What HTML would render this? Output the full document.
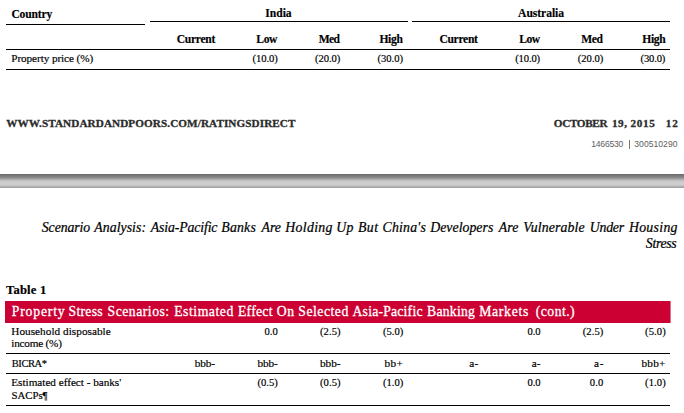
<!DOCTYPE html>
<html><head><meta charset="utf-8"><style>
html,body{margin:0;padding:0;background:#fff;}
body{width:684px;height:413px;position:relative;overflow:hidden;font-family:"Liberation Serif",serif;}
.t{position:absolute;white-space:pre;}
.ln{position:absolute;height:1px;background:#000;}
.bar{position:absolute;left:0;top:174px;width:684px;height:14px;background:linear-gradient(#6a6a6a 0%,#8a8a8a 25%,#c8c8c8 50%,#cfcfcf 62%,#cdcdcd 78%,#9c9c9c 100%);}
.red{position:absolute;left:5px;top:301px;width:665px;height:22px;background:#cc0033;box-shadow:1px 0 0 rgba(204,0,51,0.55);}
</style></head><body>
<div class="bar"></div>
<div class="red"></div>
<div style="position:absolute;left:629px;top:140px;width:1px;height:9px;background:#7a7a7a"></div>
<div class="ln" style="left:6px;top:24px;width:139px"></div>
<div class="ln" style="left:150px;top:21px;width:258px"></div>
<div class="ln" style="left:412px;top:21px;width:258px"></div>
<div class="ln" style="left:6px;top:49px;width:664px"></div>
<div class="ln" style="left:6px;top:69px;width:664px"></div>
<div class="ln" style="left:6px;top:353px;width:664px"></div>
<div class="ln" style="left:6px;top:373px;width:664px"></div>
<div class="ln" style="left:6px;top:405px;width:664px"></div>
<div class="t" style="left:11.40px;top:8.00px;font:normal bold 11.6px/13px 'Liberation Serif', serif;letter-spacing:-0.179px;color:#000;-webkit-text-stroke:0.15px #000">Country</div>
<div class="t" style="left:265.35px;top:7.00px;font:normal bold 11.6px/13px 'Liberation Serif', serif;letter-spacing:-0.037px;color:#000;-webkit-text-stroke:0.15px #000">India</div>
<div class="t" style="left:518.10px;top:7.00px;font:normal bold 11.6px/13px 'Liberation Serif', serif;letter-spacing:-0.050px;color:#000;-webkit-text-stroke:0.15px #000">Australia</div>
<div class="t" style="left:176.70px;top:33.00px;font:normal bold 11.6px/13px 'Liberation Serif', serif;letter-spacing:-0.278px;color:#000;-webkit-text-stroke:0.15px #000">Current</div>
<div class="t" style="left:256.30px;top:33.00px;font:normal bold 11.6px/13px 'Liberation Serif', serif;letter-spacing:-0.362px;color:#000;-webkit-text-stroke:0.15px #000">Low</div>
<div class="t" style="left:318.70px;top:33.00px;font:normal bold 11.6px/13px 'Liberation Serif', serif;letter-spacing:-0.581px;color:#000;-webkit-text-stroke:0.15px #000">Med</div>
<div class="t" style="left:379.40px;top:33.00px;font:normal bold 11.6px/13px 'Liberation Serif', serif;letter-spacing:-0.292px;color:#000;-webkit-text-stroke:0.15px #000">High</div>
<div class="t" style="left:439.40px;top:33.00px;font:normal bold 11.6px/13px 'Liberation Serif', serif;letter-spacing:-0.311px;color:#000;-webkit-text-stroke:0.15px #000">Current</div>
<div class="t" style="left:519.30px;top:33.00px;font:normal bold 11.6px/13px 'Liberation Serif', serif;letter-spacing:-0.562px;color:#000;-webkit-text-stroke:0.15px #000">Low</div>
<div class="t" style="left:581.20px;top:33.00px;font:normal bold 11.6px/13px 'Liberation Serif', serif;letter-spacing:-0.431px;color:#000;-webkit-text-stroke:0.15px #000">Med</div>
<div class="t" style="left:642.20px;top:33.00px;font:normal bold 11.6px/13px 'Liberation Serif', serif;letter-spacing:-0.325px;color:#000;-webkit-text-stroke:0.15px #000">High</div>
<div class="t" style="left:11.30px;top:52.00px;font:normal normal 11.2px/12px 'Liberation Serif', serif;letter-spacing:-0.078px;color:#000;-webkit-text-stroke:0.18px #000">Property price (%)</div>
<div class="t" style="left:252.60px;top:53.00px;font:normal normal 10.6px/11px 'Liberation Serif', serif;letter-spacing:-0.080px;color:#000;-webkit-text-stroke:0.18px #000">(10.0)</div>
<div class="t" style="left:315.00px;top:53.00px;font:normal normal 10.6px/11px 'Liberation Serif', serif;letter-spacing:-0.060px;color:#000;-webkit-text-stroke:0.18px #000">(20.0)</div>
<div class="t" style="left:377.60px;top:53.00px;font:normal normal 10.6px/11px 'Liberation Serif', serif;letter-spacing:-0.040px;color:#000;-webkit-text-stroke:0.18px #000">(30.0)</div>
<div class="t" style="left:515.20px;top:53.00px;font:normal normal 10.6px/11px 'Liberation Serif', serif;letter-spacing:-0.140px;color:#000;-webkit-text-stroke:0.18px #000">(10.0)</div>
<div class="t" style="left:577.80px;top:53.00px;font:normal normal 10.6px/11px 'Liberation Serif', serif;letter-spacing:0.000px;color:#000;-webkit-text-stroke:0.18px #000">(20.0)</div>
<div class="t" style="left:640.50px;top:53.00px;font:normal normal 10.6px/11px 'Liberation Serif', serif;letter-spacing:-0.140px;color:#000;-webkit-text-stroke:0.18px #000">(30.0)</div>
<div class="t" style="left:6.30px;top:117.00px;font:normal bold 11.2px/12px 'Liberation Serif', serif;letter-spacing:0.077px;color:#2b2b2b;-webkit-text-stroke:0.3px #2b2b2b">WWW.STANDARDANDPOORS.COM/RATINGSDIRECT</div>
<div class="t" style="left:553.80px;top:117.00px;font:normal bold 11.2px/12px 'Liberation Serif', serif;letter-spacing:-0.341px;color:#2b2b2b;-webkit-text-stroke:0.3px #2b2b2b">OCTOBER</div>
<div class="t" style="left:612.10px;top:117.00px;font:normal bold 11.2px/12px 'Liberation Serif', serif;letter-spacing:0.200px;color:#2b2b2b;-webkit-text-stroke:0.3px #2b2b2b">19</div>
<div class="t" style="left:624.30px;top:117.00px;font:normal bold 11.2px/12px 'Liberation Serif', serif;letter-spacing:0.000px;color:#2b2b2b;-webkit-text-stroke:0.3px #2b2b2b">,</div>
<div class="t" style="left:630.40px;top:117.00px;font:normal bold 11.2px/12px 'Liberation Serif', serif;letter-spacing:0.733px;color:#2b2b2b;-webkit-text-stroke:0.3px #2b2b2b">2015</div>
<div class="t" style="left:665.70px;top:117.00px;font:normal bold 11.2px/12px 'Liberation Serif', serif;letter-spacing:0.900px;color:#2b2b2b;-webkit-text-stroke:0.3px #2b2b2b">12</div>
<div class="t" style="left:591.20px;top:139.00px;font:normal normal 8.6px/10px 'Liberation Sans', sans-serif;letter-spacing:-0.216px;color:#606060">1466530</div>
<div class="t" style="left:634.30px;top:139.00px;font:normal normal 8.6px/10px 'Liberation Sans', sans-serif;letter-spacing:0.020px;color:#606060">300510290</div>
<div class="t" style="left:41.80px;top:220.00px;font:italic normal 13.8px/15px 'Liberation Serif', serif;letter-spacing:-0.094px;color:#000;-webkit-text-stroke:0.22px #000">Scenario</div>
<div class="t" style="left:94.26px;top:220.00px;font:italic normal 13.8px/15px 'Liberation Serif', serif;letter-spacing:0.051px;color:#000;-webkit-text-stroke:0.22px #000">Analysis:</div>
<div class="t" style="left:150.76px;top:220.00px;font:italic normal 13.8px/15px 'Liberation Serif', serif;letter-spacing:-0.136px;color:#000;-webkit-text-stroke:0.22px #000">Asia-Pacific</div>
<div class="t" style="left:221.30px;top:220.00px;font:italic normal 13.8px/15px 'Liberation Serif', serif;letter-spacing:0.190px;color:#000;-webkit-text-stroke:0.22px #000">Banks</div>
<div class="t" style="left:261.56px;top:220.00px;font:italic normal 13.8px/15px 'Liberation Serif', serif;letter-spacing:-0.074px;color:#000;-webkit-text-stroke:0.22px #000">Are</div>
<div class="t" style="left:285.21px;top:220.00px;font:italic normal 13.8px/15px 'Liberation Serif', serif;letter-spacing:0.338px;color:#000;-webkit-text-stroke:0.22px #000">Holding</div>
<div class="t" style="left:336.30px;top:220.00px;font:italic normal 13.8px/15px 'Liberation Serif', serif;letter-spacing:0.164px;color:#000;-webkit-text-stroke:0.22px #000">Up</div>
<div class="t" style="left:358.00px;top:220.00px;font:italic normal 13.8px/15px 'Liberation Serif', serif;letter-spacing:0.421px;color:#000;-webkit-text-stroke:0.22px #000">But</div>
<div class="t" style="left:382.50px;top:220.00px;font:italic normal 13.8px/15px 'Liberation Serif', serif;letter-spacing:0.202px;color:#000;-webkit-text-stroke:0.22px #000">China's</div>
<div class="t" style="left:430.21px;top:220.00px;font:italic normal 13.8px/15px 'Liberation Serif', serif;letter-spacing:0.026px;color:#000;-webkit-text-stroke:0.22px #000">Developers</div>
<div class="t" style="left:498.76px;top:220.00px;font:italic normal 13.8px/15px 'Liberation Serif', serif;letter-spacing:0.076px;color:#000;-webkit-text-stroke:0.22px #000">Are</div>
<div class="t" style="left:523.30px;top:220.00px;font:italic normal 13.8px/15px 'Liberation Serif', serif;letter-spacing:0.122px;color:#000;-webkit-text-stroke:0.22px #000">Vulnerable</div>
<div class="t" style="left:589.70px;top:220.00px;font:italic normal 13.8px/15px 'Liberation Serif', serif;letter-spacing:-0.207px;color:#000;-webkit-text-stroke:0.22px #000">Under</div>
<div class="t" style="left:628.91px;top:220.00px;font:italic normal 13.8px/15px 'Liberation Serif', serif;letter-spacing:0.302px;color:#000;-webkit-text-stroke:0.22px #000">Housing</div>
<div class="t" style="left:645.80px;top:236.00px;font:italic normal 13.8px/15px 'Liberation Serif', serif;letter-spacing:-0.306px;color:#000;-webkit-text-stroke:0.22px #000">Stress</div>
<div class="t" style="left:6.00px;top:283.00px;font:normal bold 12.6px/14px 'Liberation Serif', serif;letter-spacing:0.188px;color:#000;-webkit-text-stroke:0.2px #000">Table 1</div>
<div class="t" style="left:11.80px;top:304.00px;font:normal normal 13.7px/15px 'Liberation Serif', serif;letter-spacing:0.815px;color:#fff;-webkit-text-stroke:0.3px #fff">Property</div>
<div class="t" style="left:68.50px;top:304.00px;font:normal normal 13.7px/15px 'Liberation Serif', serif;letter-spacing:0.291px;color:#fff;-webkit-text-stroke:0.3px #fff">Stress</div>
<div class="t" style="left:107.50px;top:304.00px;font:normal normal 13.7px/15px 'Liberation Serif', serif;letter-spacing:0.515px;color:#fff;-webkit-text-stroke:0.3px #fff">Scenarios:</div>
<div class="t" style="left:174.20px;top:304.00px;font:normal normal 13.7px/15px 'Liberation Serif', serif;letter-spacing:0.538px;color:#fff;-webkit-text-stroke:0.3px #fff">Estimated</div>
<div class="t" style="left:238.00px;top:304.00px;font:normal normal 13.7px/15px 'Liberation Serif', serif;letter-spacing:0.256px;color:#fff;-webkit-text-stroke:0.3px #fff">Effect</div>
<div class="t" style="left:276.70px;top:304.00px;font:normal normal 13.7px/15px 'Liberation Serif', serif;letter-spacing:0.786px;color:#fff;-webkit-text-stroke:0.3px #fff">On</div>
<div class="t" style="left:298.30px;top:304.00px;font:normal normal 13.7px/15px 'Liberation Serif', serif;letter-spacing:0.518px;color:#fff;-webkit-text-stroke:0.3px #fff">Selected</div>
<div class="t" style="left:352.50px;top:304.00px;font:normal normal 13.7px/15px 'Liberation Serif', serif;letter-spacing:0.211px;color:#fff;-webkit-text-stroke:0.3px #fff">Asia-Pacific</div>
<div class="t" style="left:427.00px;top:304.00px;font:normal normal 13.7px/15px 'Liberation Serif', serif;letter-spacing:0.259px;color:#fff;-webkit-text-stroke:0.3px #fff">Banking</div>
<div class="t" style="left:479.20px;top:304.00px;font:normal normal 13.7px/15px 'Liberation Serif', serif;letter-spacing:0.705px;color:#fff;-webkit-text-stroke:0.3px #fff">Markets</div>
<div class="t" style="left:535.80px;top:304.00px;font:normal normal 13.7px/15px 'Liberation Serif', serif;letter-spacing:0.455px;color:#fff;-webkit-text-stroke:0.3px #fff">(cont.)</div>
<div class="t" style="left:11.30px;top:325.00px;font:normal normal 11.2px/12px 'Liberation Serif', serif;letter-spacing:0.047px;color:#000;-webkit-text-stroke:0.18px #000">Household disposable</div>
<div class="t" style="left:11.30px;top:337.00px;font:normal normal 11.2px/12px 'Liberation Serif', serif;letter-spacing:-0.203px;color:#000;-webkit-text-stroke:0.18px #000">income (%)</div>
<div class="t" style="left:264.50px;top:326.00px;font:normal normal 10.6px/11px 'Liberation Serif', serif;letter-spacing:0.025px;color:#000;-webkit-text-stroke:0.18px #000">0.0</div>
<div class="t" style="left:320.00px;top:326.00px;font:normal normal 10.6px/11px 'Liberation Serif', serif;letter-spacing:0.075px;color:#000;-webkit-text-stroke:0.18px #000">(2.5)</div>
<div class="t" style="left:382.90px;top:326.00px;font:normal normal 10.6px/11px 'Liberation Serif', serif;letter-spacing:0.025px;color:#000;-webkit-text-stroke:0.18px #000">(5.0)</div>
<div class="t" style="left:527.40px;top:326.00px;font:normal normal 10.6px/11px 'Liberation Serif', serif;letter-spacing:-0.025px;color:#000;-webkit-text-stroke:0.18px #000">0.0</div>
<div class="t" style="left:582.70px;top:326.00px;font:normal normal 10.6px/11px 'Liberation Serif', serif;letter-spacing:0.100px;color:#000;-webkit-text-stroke:0.18px #000">(2.5)</div>
<div class="t" style="left:645.10px;top:326.00px;font:normal normal 10.6px/11px 'Liberation Serif', serif;letter-spacing:0.100px;color:#000;-webkit-text-stroke:0.18px #000">(5.0)</div>
<div class="t" style="left:11.70px;top:358.00px;font:normal normal 10.5px/11px 'Liberation Serif', serif;letter-spacing:-0.406px;color:#000;-webkit-text-stroke:0.18px #000">BICRA*</div>
<div class="t" style="left:194.80px;top:357.00px;font:normal normal 11.2px/12px 'Liberation Serif', serif;letter-spacing:-0.084px;color:#000;-webkit-text-stroke:0.18px #000">bbb-</div>
<div class="t" style="left:257.40px;top:357.00px;font:normal normal 11.2px/12px 'Liberation Serif', serif;letter-spacing:-0.051px;color:#000;-webkit-text-stroke:0.18px #000">bbb-</div>
<div class="t" style="left:320.00px;top:357.00px;font:normal normal 11.2px/12px 'Liberation Serif', serif;letter-spacing:0.016px;color:#000;-webkit-text-stroke:0.18px #000">bbb-</div>
<div class="t" style="left:384.60px;top:357.00px;font:normal normal 11.2px/12px 'Liberation Serif', serif;letter-spacing:0.336px;color:#000;-webkit-text-stroke:0.18px #000">bb+</div>
<div class="t" style="left:469.30px;top:357.00px;font:normal normal 11.2px/12px 'Liberation Serif', serif;letter-spacing:0.220px;color:#000;-webkit-text-stroke:0.18px #000">a-</div>
<div class="t" style="left:531.70px;top:357.00px;font:normal normal 11.2px/12px 'Liberation Serif', serif;letter-spacing:0.220px;color:#000;-webkit-text-stroke:0.18px #000">a-</div>
<div class="t" style="left:594.00px;top:357.00px;font:normal normal 11.2px/12px 'Liberation Serif', serif;letter-spacing:0.720px;color:#000;-webkit-text-stroke:0.18px #000">a-</div>
<div class="t" style="left:641.50px;top:357.00px;font:normal normal 11.2px/12px 'Liberation Serif', serif;letter-spacing:0.257px;color:#000;-webkit-text-stroke:0.18px #000">bbb+</div>
<div class="t" style="left:11.30px;top:376.00px;font:normal normal 11.2px/12px 'Liberation Serif', serif;letter-spacing:-0.013px;color:#000;-webkit-text-stroke:0.18px #000">Estimated effect - banks'</div>
<div class="t" style="left:11.50px;top:389.00px;font:normal normal 10.8px/12px 'Liberation Serif', serif;letter-spacing:-0.025px;color:#000;-webkit-text-stroke:0.18px #000">SACPs¶</div>
<div class="t" style="left:257.40px;top:377.00px;font:normal normal 10.6px/11px 'Liberation Serif', serif;letter-spacing:0.025px;color:#000;-webkit-text-stroke:0.18px #000">(0.5)</div>
<div class="t" style="left:320.00px;top:377.00px;font:normal normal 10.6px/11px 'Liberation Serif', serif;letter-spacing:0.075px;color:#000;-webkit-text-stroke:0.18px #000">(0.5)</div>
<div class="t" style="left:383.00px;top:377.00px;font:normal normal 10.6px/11px 'Liberation Serif', serif;letter-spacing:0.000px;color:#000;-webkit-text-stroke:0.18px #000">(1.0)</div>
<div class="t" style="left:527.40px;top:377.00px;font:normal normal 10.6px/11px 'Liberation Serif', serif;letter-spacing:-0.025px;color:#000;-webkit-text-stroke:0.18px #000">0.0</div>
<div class="t" style="left:589.80px;top:377.00px;font:normal normal 10.6px/11px 'Liberation Serif', serif;letter-spacing:0.175px;color:#000;-webkit-text-stroke:0.18px #000">0.0</div>
<div class="t" style="left:645.00px;top:377.00px;font:normal normal 10.6px/11px 'Liberation Serif', serif;letter-spacing:0.125px;color:#000;-webkit-text-stroke:0.18px #000">(1.0)</div>
</body></html>
